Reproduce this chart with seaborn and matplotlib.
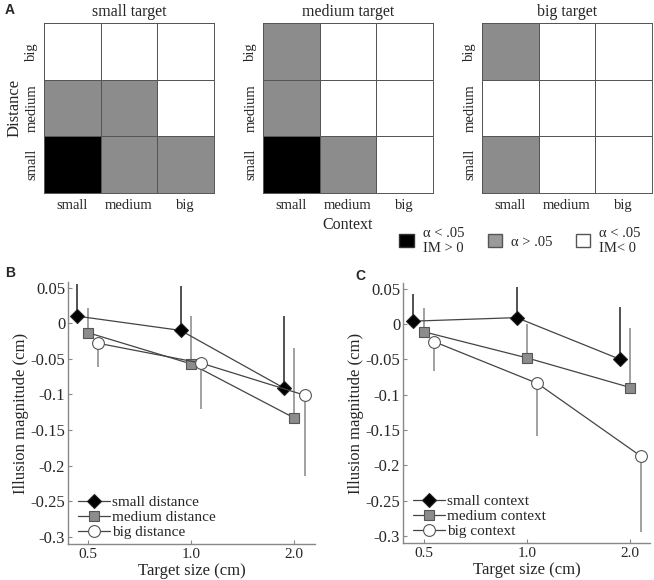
import numpy as np
import pandas as pd
import matplotlib
matplotlib.use("Agg")
import matplotlib.pyplot as plt
from matplotlib.colors import ListedColormap
from matplotlib.patches import Patch
import seaborn as sns

# panel A: significance maps (rows: distance big/medium/small, cols: context small/medium/big)
# 0 = alpha<.05 IM<0 (white), 1 = alpha>.05 (gray), 2 = alpha<.05 IM>0 (black)
targets = ["small target", "medium target", "big target"]
context_labels = ["small", "medium", "big"]
distance_labels = ["big", "medium", "small"]
sig_small = [[0, 0, 0], [1, 1, 0], [2, 1, 1]]
sig_medium = [[1, 0, 0], [1, 0, 0], [2, 1, 0]]
sig_big = [[1, 0, 0], [0, 0, 0], [1, 0, 0]]

# panels B and C
target_sizes = [0.5, 1.0, 2.0]
dist_small = [0.010, -0.010, -0.091]
dist_small_err = [0.055, 0.053, 0.010]
dist_medium = [-0.013, -0.057, -0.133]
dist_medium_err = [0.021, 0.010, -0.034]
dist_big = [-0.028, -0.056, -0.101]
dist_big_err = [-0.061, -0.120, -0.214]

ctx_small = [0.004, 0.009, -0.050]
ctx_small_err = [0.042, 0.053, 0.024]
ctx_medium = [-0.011, -0.048, -0.090]
ctx_medium_err = [0.023, 0.000, -0.006]
ctx_big = [-0.025, -0.084, -0.187]
ctx_big_err = [-0.067, -0.158, -0.294]

sns.set_style("ticks")
plt.rcParams["font.family"] = ["Liberation Serif", "DejaVu Serif"]

fig = plt.figure(figsize=(6.54, 5.8), dpi=100)

cmap = ListedColormap(["white", "#8c8c8c", "black"])
heat_lefts = [44 / 654, 263 / 654, 482 / 654]
for i, (title, mat) in enumerate(zip(targets, [sig_small, sig_medium, sig_big])):
    ax = fig.add_axes([heat_lefts[i], 1 - 193 / 580, 170 / 654, 170 / 580])
    df = pd.DataFrame(mat, index=distance_labels, columns=context_labels)
    sns.heatmap(df, ax=ax, cmap=cmap, vmin=0, vmax=2, cbar=False,
                linewidths=0.6, linecolor="#555555", square=False)
    for s in ax.spines.values():
        s.set_visible(True)
        s.set_color("#555555")
        s.set_linewidth(0.7)
    ax.set_title(title, fontsize=11.5, pad=5)
    ax.tick_params(length=0, labelsize=10.5, pad=4)
    ax.set_yticklabels(distance_labels, rotation=90, va="center")
    ax.set_xticklabels(context_labels, rotation=0)
    ax.set_xlabel("Context" if i == 1 else "", fontsize=11.5, labelpad=4)
    ax.set_ylabel("Distance" if i == 0 else "", fontsize=12, labelpad=2)

handles = [Patch(facecolor="black", edgecolor="#333333"),
           Patch(facecolor="#9a9a9a", edgecolor="#555555"),
           Patch(facecolor="white", edgecolor="#555555")]
fig.legend(handles, ["α < .05\nIM > 0", "α > .05", "α < .05\nIM< 0"],
           ncol=3, loc="center", bbox_to_anchor=(0.795, 0.585), frameon=False,
           fontsize=10.5, handlelength=1.0, handleheight=1.0, columnspacing=1.6,
           handletextpad=0.6)


def effect_panel(ax, series, labels, xlim):
    styles = [("D", "black", "#222222", 7.0, "#222222"),
              ("s", "#8c8c8c", "#555555", 7.0, "#888888"),
              ("o", "white", "#555555", 8.5, "#888888")]
    offsets = [-0.1, 0.0, 0.1]
    xs_base = np.log2(target_sizes)
    for (vals, errs), lab, (mk, fc, ec, ms, errc), off in zip(series, labels, styles, offsets):
        xs = xs_base + off
        ax.vlines(xs, vals, errs, color=errc, lw=1.1, zorder=1)
        sns.lineplot(x=xs, y=vals, ax=ax, marker=mk, color="#444444", lw=0.9,
                     markerfacecolor=fc, markeredgecolor=ec, markersize=ms,
                     markeredgewidth=0.8, label=lab, zorder=3, sort=False)
    ax.set_xlim(*xlim)
    ax.set_ylim(-0.31, 0.058)
    yt = [0.05, 0, -0.05, -0.1, -0.15, -0.2, -0.25, -0.3]
    ax.set_yticks(yt, ["{:g}".format(v) for v in yt])
    ax.set_xticks(xs_base, ["{:.1f}".format(v) for v in target_sizes])
    ax.tick_params(axis="y", labelsize=12, length=3, direction="in",
                   color="#888888", pad=2)
    ax.tick_params(axis="x", labelsize=11, length=3, direction="in",
                   color="#888888", pad=3)
    for s in ["top", "right"]:
        ax.spines[s].set_visible(False)
    for s in ["left", "bottom"]:
        ax.spines[s].set_color("#888888")
        ax.spines[s].set_linewidth(1.0)
    ax.set_xlabel("Target size (cm)", fontsize=12, labelpad=1)
    ax.set_ylabel("Illusion magnitude (cm)", fontsize=12, labelpad=1)
    ax.legend(loc="lower left", frameon=False, fontsize=11, handlelength=2.1,
              handletextpad=0.15, labelspacing=0.1, borderaxespad=0.1,
              borderpad=0.2, bbox_to_anchor=(0.02, 0.0))


axB = fig.add_axes([68 / 654, 1 - 544 / 580, 247 / 654, 262 / 580])
effect_panel(axB,
             [(dist_small, dist_small_err), (dist_medium, dist_medium_err), (dist_big, dist_big_err)],
             ["small distance", "medium distance", "big distance"], (-1.19, 1.2))

axC = fig.add_axes([403 / 654, 1 - 543 / 580, 247 / 654, 260 / 580])
effect_panel(axC,
             [(ctx_small, ctx_small_err), (ctx_medium, ctx_medium_err), (ctx_big, ctx_big_err)],
             ["small context", "medium context", "big context"], (-1.2, 1.19))

for lab, x, y in [("A", 5, 10), ("B", 5, 273), ("C", 355, 276)]:
    fig.text(x / 654, 1 - y / 580, lab, fontsize=10, fontweight="bold",
             family="Liberation Sans", va="center", ha="left")

fig.savefig("out.png", dpi=100)
